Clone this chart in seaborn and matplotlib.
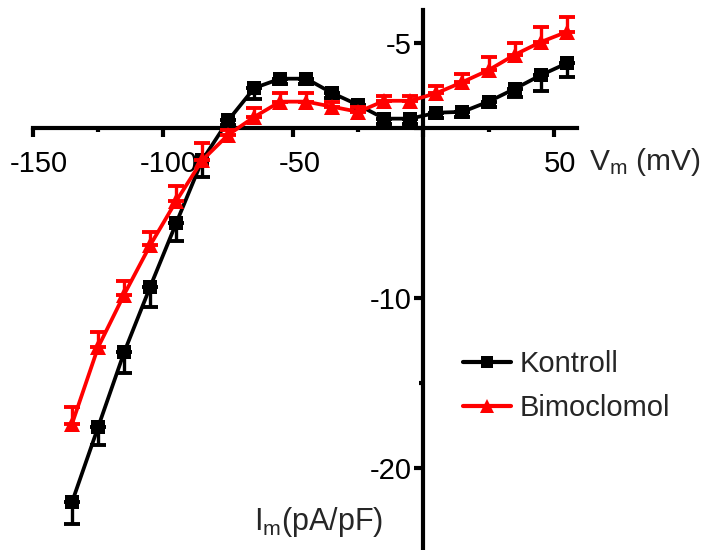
import numpy as np
import pandas as pd
import matplotlib
matplotlib.use("Agg")
import matplotlib.pyplot as plt
from matplotlib.lines import Line2D
from matplotlib.transforms import ScaledTranslation
import seaborn as sns

# ---- data ----
voltage = [-135, -125, -115, -105, -95, -85, -75, -65, -55, -45,
           -35, -25, -15, -5, 5, 15, 25, 35, 45, 55]
kontroll = [-22.0, -17.6, -13.2, -9.35, -5.6, -1.9, 0.45, 2.35, 2.9, 2.9,
            2.05, 1.35, 0.55, 0.55, 0.9, 0.95, 1.55, 2.3, 3.1, 3.8]
kontroll_err = [1.3, 1.06, 1.2, 1.2, 1.06, 1.0, 0.3, 0.65, 0.3, 0.3,
                0.3, 0.3, 0.3, 0.3, 0.3, 0.3, 0.3, 0.5, 0.9, 0.8]
bimoclomol = [-17.4, -12.9, -9.8, -6.9, -4.3, -1.9, -0.4, 0.65, 1.55, 1.55,
              1.25, 0.95, 1.6, 1.6, 2.05, 2.7, 3.4, 4.3, 5.05, 5.65]
bimoclomol_err = [1.0, 0.9, 0.8, 0.8, 0.9, 1.0, 0.3, 0.5, 0.5, 0.5,
                  0.3, 0.3, 0.3, 0.3, 0.4, 0.5, 0.75, 0.7, 0.9, 0.9]
groups = ["Kontroll", "Bimoclomol"]
x_ticks = [-150, -100, -50, 0, 50]
x_ticklabels = ["-150", "-100", "-50", "", "50"]
x_minor = [-125, -75, -25, 25]
y_ticks = [5, 0, -10, -20]
y_ticklabels = ["-5", "", "-10", "-20"]
y_minor = [-15]

df = pd.DataFrame({
    "V": voltage * 2,
    "I": kontroll + bimoclomol,
    "group": ["Kontroll"] * len(voltage) + ["Bimoclomol"] * len(voltage),
})

sns.set_style("white")
plt.rcParams["font.family"] = ["Liberation Sans", "DejaVu Sans"]
plt.rcParams["mathtext.fontset"] = "custom"
plt.rcParams["mathtext.rm"] = "Liberation Sans"
plt.rcParams["mathtext.it"] = "Liberation Sans:italic"

W, H = 709, 550
fig = plt.figure(figsize=(W / 100, H / 100), dpi=100)
ax = fig.add_axes([33 / W, 0, 544 / W, 540 / H])
ax.set_facecolor("white")

colors = {"Kontroll": "black", "Bimoclomol": "red"}
markers = {"Kontroll": "s", "Bimoclomol": "^"}
msize = {"Kontroll": 10, "Bimoclomol": 11.5}
errs = {"Kontroll": (kontroll_err, "down"), "Bimoclomol": (bimoclomol_err, "up")}
vals = {"Kontroll": kontroll, "Bimoclomol": bimoclomol}

z = 2
for g in groups:
    e, d = errs[g]
    e = np.array(e)
    zeros = np.zeros_like(e)
    yerr = [e, zeros] if d == "down" else [zeros, e]
    ax.errorbar(voltage, vals[g], yerr=yerr, fmt="none", ecolor=colors[g],
                elinewidth=2.4, capsize=6, capthick=2.8, zorder=z)
    sub = df[df["group"] == g]
    sns.lineplot(data=sub, x="V", y="I", color=colors[g], marker=markers[g],
                 markersize=msize[g], markeredgewidth=0, linewidth=2.7,
                 ax=ax, legend=False, zorder=z + 1)
    z += 2

ax.set_xlim(-150, 59)
ax.set_ylim(-24.82, 6.94)
ax.set_xlabel("")
ax.set_ylabel("")

for s in ["top", "right"]:
    ax.spines[s].set_visible(False)
ax.spines["left"].set_position(("data", 0))
ax.spines["bottom"].set_position(("data", 0))
for s in ["left", "bottom"]:
    ax.spines[s].set_linewidth(3.0)
    ax.spines[s].set_color("black")
    ax.spines[s].set_zorder(1)

ax.set_xticks(x_ticks)
ax.set_xticklabels(x_ticklabels)
ax.set_xticks(x_minor, minor=True)
ax.set_yticks(y_ticks)
ax.set_yticklabels(y_ticklabels)
ax.set_yticks(y_minor, minor=True)
ax.tick_params(axis="both", which="major", direction="out", length=6.5,
               width=3.0, color="black", labelsize=21, labelcolor="black")
ax.tick_params(axis="both", which="minor", direction="out", length=3,
               width=3.0, color="black")
ax.tick_params(axis="x", which="major", pad=9)
ax.tick_params(axis="y", which="major", pad=2)
ax.tick_params(bottom=True, left=True, which="both")

shift = ScaledTranslation(6 / 100, 0, fig.dpi_scale_trans)
for lab in ax.get_xticklabels():
    lab.set_transform(lab.get_transform() + shift)

fig.text(589 / W, 1 - 170 / H, r"V$_\mathrm{m}$ (mV)", fontsize=21.5,
         ha="left", va="baseline")
fig.text(254 / W, 1 - 530 / H, r"I$_\mathrm{m}$(pA/pF)", fontsize=22,
         ha="left", va="baseline")

handles = [Line2D([], [], color=colors[g], marker=markers[g], markersize=msize[g] * 0.9,
                  markeredgewidth=0, linewidth=3.0) for g in groups]
ax.legend(handles, groups, loc="upper left", bbox_to_anchor=(463 / W, 1 - 350 / H),
          bbox_transform=fig.transFigure, frameon=False, fontsize=21,
          handlelength=1.65, handletextpad=0.3, borderpad=0, borderaxespad=0,
          labelspacing=0.55)

fig.savefig("out.png", dpi=100)
